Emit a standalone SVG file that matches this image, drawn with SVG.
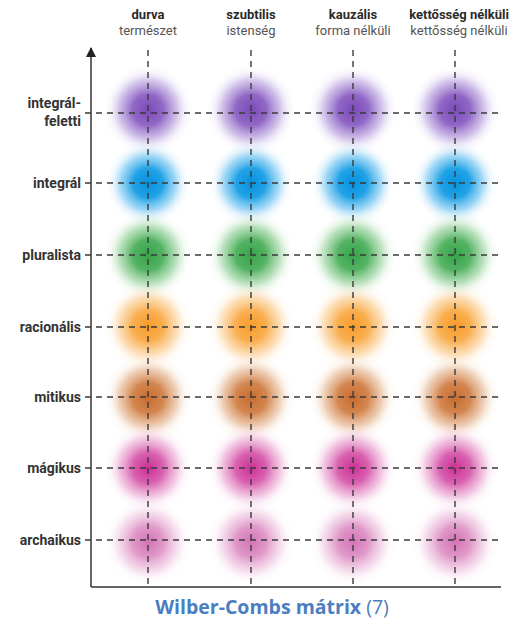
<svg xmlns="http://www.w3.org/2000/svg" width="519" height="624" viewBox="0 0 519 624">
<defs>
<radialGradient id="gP"><stop offset="0" stop-color="#7440b4" stop-opacity="0.95"/><stop offset="0.35" stop-color="#7d4cbc" stop-opacity="0.85"/><stop offset="0.65" stop-color="#9470cc" stop-opacity="0.45"/><stop offset="0.85" stop-color="#b8a0e0" stop-opacity="0.12"/><stop offset="1" stop-color="#c8b8e8" stop-opacity="0"/></radialGradient>
<radialGradient id="gB"><stop offset="0" stop-color="#0592e0" stop-opacity="1"/><stop offset="0.35" stop-color="#0e9ae4" stop-opacity="0.92"/><stop offset="0.65" stop-color="#40b0ec" stop-opacity="0.5"/><stop offset="0.85" stop-color="#90d0f4" stop-opacity="0.15"/><stop offset="1" stop-color="#c0e4f8" stop-opacity="0"/></radialGradient>
<radialGradient id="gG"><stop offset="0" stop-color="#2a9e40" stop-opacity="0.95"/><stop offset="0.35" stop-color="#36a648" stop-opacity="0.85"/><stop offset="0.65" stop-color="#62bb6a" stop-opacity="0.45"/><stop offset="0.85" stop-color="#a0d8a4" stop-opacity="0.12"/><stop offset="1" stop-color="#c8e8c8" stop-opacity="0"/></radialGradient>
<radialGradient id="gO"><stop offset="0" stop-color="#f7961e" stop-opacity="0.95"/><stop offset="0.35" stop-color="#f8a030" stop-opacity="0.85"/><stop offset="0.65" stop-color="#f9b45a" stop-opacity="0.45"/><stop offset="0.85" stop-color="#fcd4a0" stop-opacity="0.12"/><stop offset="1" stop-color="#fde4c4" stop-opacity="0"/></radialGradient>
<radialGradient id="gR"><stop offset="0" stop-color="#c46424" stop-opacity="0.95"/><stop offset="0.35" stop-color="#cc7030" stop-opacity="0.85"/><stop offset="0.65" stop-color="#d89058" stop-opacity="0.45"/><stop offset="0.85" stop-color="#ecc4a0" stop-opacity="0.12"/><stop offset="1" stop-color="#f4dcc4" stop-opacity="0"/></radialGradient>
<radialGradient id="gM"><stop offset="0" stop-color="#c82490" stop-opacity="0.95"/><stop offset="0.35" stop-color="#d03a9c" stop-opacity="0.8"/><stop offset="0.65" stop-color="#dc68b4" stop-opacity="0.4"/><stop offset="0.85" stop-color="#eca8d4" stop-opacity="0.1"/><stop offset="1" stop-color="#f4cce4" stop-opacity="0"/></radialGradient>
<radialGradient id="gA"><stop offset="0" stop-color="#c850a4" stop-opacity="0.8"/><stop offset="0.35" stop-color="#d060aa" stop-opacity="0.65"/><stop offset="0.65" stop-color="#dc88c0" stop-opacity="0.32"/><stop offset="0.85" stop-color="#ecbcdc" stop-opacity="0.08"/><stop offset="1" stop-color="#f4d8ec" stop-opacity="0"/></radialGradient>
<marker id="arr" viewBox="0 0 10 10" refX="9" refY="5" markerWidth="10" markerHeight="10" markerUnits="userSpaceOnUse" orient="auto"><path d="M0,0 L10,5 L0,10 Z" fill="#222"/></marker>
</defs>
<style>
.hb{font-family:Roboto,"Liberation Sans",sans-serif;font-weight:bold;font-size:13px;fill:#2a2a2a;text-anchor:middle}
.hs{font-family:Roboto,"Liberation Sans",sans-serif;font-size:13px;fill:#555;text-anchor:middle}
.rl{font-family:Roboto,"Liberation Sans",sans-serif;font-weight:bold;font-size:14px;fill:#333;text-anchor:end}
.dash{stroke:#3a3a3a;stroke-width:1.4;stroke-dasharray:6 5;fill:none}
.ax{stroke:#333;stroke-width:1.5;fill:none}
.cap{font-family:"Open Sans","Liberation Sans",sans-serif;font-size:19.5px;fill:#4a7ec0;text-anchor:middle}
</style>
<rect width="519" height="624" fill="#fff"/>
<g id="blobs">
<g id="row-integral-feletti" fill="url(#gP)"><circle cx="148" cy="110" r="44"/><circle cx="251" cy="110" r="44"/><circle cx="353" cy="110" r="44"/><circle cx="455" cy="110" r="44"/></g>
<g id="row-integral" fill="url(#gB)"><circle cx="148" cy="183" r="42"/><circle cx="251" cy="183" r="42"/><circle cx="353" cy="183" r="42"/><circle cx="455" cy="183" r="42"/></g>
<g id="row-pluralista" fill="url(#gG)"><circle cx="148" cy="255" r="44"/><circle cx="251" cy="255" r="44"/><circle cx="353" cy="255" r="44"/><circle cx="455" cy="255" r="44"/></g>
<g id="row-racionalis" fill="url(#gO)"><circle cx="148" cy="326" r="44"/><circle cx="251" cy="326" r="44"/><circle cx="353" cy="326" r="44"/><circle cx="455" cy="326" r="44"/></g>
<g id="row-mitikus" fill="url(#gR)"><circle cx="148" cy="398" r="44"/><circle cx="251" cy="398" r="44"/><circle cx="353" cy="398" r="44"/><circle cx="455" cy="398" r="44"/></g>
<g id="row-magikus" fill="url(#gM)"><circle cx="148" cy="468" r="44"/><circle cx="251" cy="468" r="44"/><circle cx="353" cy="468" r="44"/><circle cx="455" cy="468" r="44"/></g>
<g id="row-archaikus" fill="url(#gA)"><circle cx="148" cy="542" r="44"/><circle cx="251" cy="542" r="44"/><circle cx="353" cy="542" r="44"/><circle cx="455" cy="542" r="44"/></g>
</g>
<g id="connectors">
<path class="dash" d="M148 50V584M251 50V584M353 50V584M455 50V584"/>
<path class="dash" d="M85 113H500M85 183H500M85 255H500M85 327H500M85 397H500M85 468H500M85 540H500"/>
<path class="ax" d="M91 587V48" marker-end="url(#arr)"/>
<path class="ax" d="M91 587H501"/>
</g>
<g id="headers">
<g id="col-durva"><text class="hb" x="148" y="19">durva</text><text class="hs" x="148" y="35">természet</text></g>
<g id="col-szubtilis"><text class="hb" x="251" y="19">szubtilis</text><text class="hs" x="251" y="35">istenség</text></g>
<g id="col-kauzalis"><text class="hb" x="353" y="19">kauzális</text><text class="hs" x="353" y="35">forma nélküli</text></g>
<g id="col-kettosseg"><text class="hb" x="459" y="19">kettősség nélküli</text><text class="hs" x="459" y="35">kettősség nélküli</text></g>
</g>
<g id="rows">
<g id="lbl-integral-feletti"><text class="rl" x="81" y="108">integrál-</text><text class="rl" x="81" y="126">feletti</text></g>
<g id="lbl-integral"><text class="rl" x="81" y="188">integrál</text></g>
<g id="lbl-pluralista"><text class="rl" x="81" y="260">pluralista</text></g>
<g id="lbl-racionalis"><text class="rl" x="81" y="332">racionális</text></g>
<g id="lbl-mitikus"><text class="rl" x="81" y="402">mitikus</text></g>
<g id="lbl-magikus"><text class="rl" x="81" y="473">mágikus</text></g>
<g id="lbl-archaikus"><text class="rl" x="81" y="545">archaikus</text></g>
</g>
<text class="cap" x="272" y="614"><tspan font-weight="bold">Wilber-Combs mátrix</tspan> (7)</text>
</svg>
